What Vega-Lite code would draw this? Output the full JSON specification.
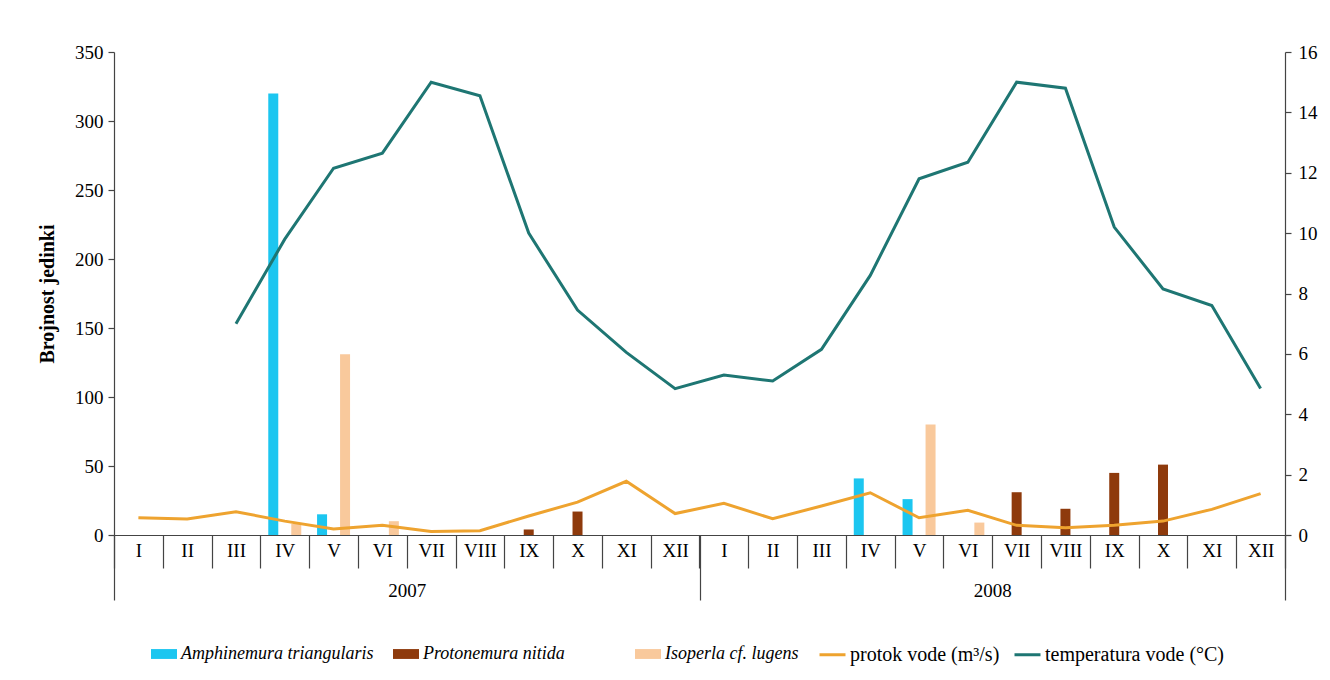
{
  "$schema": "https://vega.github.io/schema/vega-lite/v6.json",
  "width": 1171,
  "height": 483,
  "autosize": "none",
  "padding": {"left": 114, "top": 52, "right": 45, "bottom": 145},
  "background": "white",
  "config": {
    "font": "Liberation Serif",
    "view": {"stroke": null},
    "axis": {"grid": false, "labelFont": "Liberation Serif", "labelFontSize": 19, "labelColor": "#000", "domainColor": "#444", "tickColor": "#444", "domainWidth": 1.2, "tickWidth": 1.2, "titleFont": "Liberation Serif", "titleColor": "#000"},
    "legend": {"labelFont": "Liberation Serif", "labelColor": "#000", "labelLimit": 400}
  },
  "datasets": {
    "bars": [
      {"period": "2007-IV", "species": "Amphinemura triangularis", "count": 320},
      {"period": "2007-IV", "species": "Isoperla cf. lugens", "count": 8},
      {"period": "2007-V", "species": "Amphinemura triangularis", "count": 15},
      {"period": "2007-V", "species": "Isoperla cf. lugens", "count": 131},
      {"period": "2007-VI", "species": "Isoperla cf. lugens", "count": 10},
      {"period": "2007-IX", "species": "Protonemura nitida", "count": 4},
      {"period": "2007-X", "species": "Protonemura nitida", "count": 17},
      {"period": "2008-IV", "species": "Amphinemura triangularis", "count": 41},
      {"period": "2008-V", "species": "Amphinemura triangularis", "count": 26},
      {"period": "2008-V", "species": "Isoperla cf. lugens", "count": 80},
      {"period": "2008-VI", "species": "Isoperla cf. lugens", "count": 9},
      {"period": "2008-VII", "species": "Protonemura nitida", "count": 31},
      {"period": "2008-VIII", "species": "Protonemura nitida", "count": 19},
      {"period": "2008-IX", "species": "Protonemura nitida", "count": 45},
      {"period": "2008-X", "species": "Protonemura nitida", "count": 51}
    ],
    "lines": [
      {"period": "2007-I", "year": "2007", "series": "protok vode (m³/s)", "value": 0.57},
      {"period": "2007-II", "year": "2007", "series": "protok vode (m³/s)", "value": 0.53},
      {"period": "2007-III", "year": "2007", "series": "protok vode (m³/s)", "value": 0.77},
      {"period": "2007-IV", "year": "2007", "series": "protok vode (m³/s)", "value": 0.46},
      {"period": "2007-V", "year": "2007", "series": "protok vode (m³/s)", "value": 0.2},
      {"period": "2007-VI", "year": "2007", "series": "protok vode (m³/s)", "value": 0.32},
      {"period": "2007-VII", "year": "2007", "series": "protok vode (m³/s)", "value": 0.12},
      {"period": "2007-VIII", "year": "2007", "series": "protok vode (m³/s)", "value": 0.14},
      {"period": "2007-IX", "year": "2007", "series": "protok vode (m³/s)", "value": 0.63},
      {"period": "2007-X", "year": "2007", "series": "protok vode (m³/s)", "value": 1.09},
      {"period": "2007-XI", "year": "2007", "series": "protok vode (m³/s)", "value": 1.78},
      {"period": "2007-XII", "year": "2007", "series": "protok vode (m³/s)", "value": 0.71},
      {"period": "2008-I", "year": "2008", "series": "protok vode (m³/s)", "value": 1.05},
      {"period": "2008-II", "year": "2008", "series": "protok vode (m³/s)", "value": 0.54},
      {"period": "2008-III", "year": "2008", "series": "protok vode (m³/s)", "value": 0.96},
      {"period": "2008-IV", "year": "2008", "series": "protok vode (m³/s)", "value": 1.4},
      {"period": "2008-V", "year": "2008", "series": "protok vode (m³/s)", "value": 0.57},
      {"period": "2008-VI", "year": "2008", "series": "protok vode (m³/s)", "value": 0.82},
      {"period": "2008-VII", "year": "2008", "series": "protok vode (m³/s)", "value": 0.32},
      {"period": "2008-VIII", "year": "2008", "series": "protok vode (m³/s)", "value": 0.24},
      {"period": "2008-IX", "year": "2008", "series": "protok vode (m³/s)", "value": 0.32},
      {"period": "2008-X", "year": "2008", "series": "protok vode (m³/s)", "value": 0.46},
      {"period": "2008-XI", "year": "2008", "series": "protok vode (m³/s)", "value": 0.85},
      {"period": "2008-XII", "year": "2008", "series": "protok vode (m³/s)", "value": 1.37},
      {"period": "2007-III", "year": "2007", "series": "temperatura vode (°C)", "value": 7.0},
      {"period": "2007-IV", "year": "2007", "series": "temperatura vode (°C)", "value": 9.8},
      {"period": "2007-V", "year": "2007", "series": "temperatura vode (°C)", "value": 12.15},
      {"period": "2007-VI", "year": "2007", "series": "temperatura vode (°C)", "value": 12.65},
      {"period": "2007-VII", "year": "2007", "series": "temperatura vode (°C)", "value": 15.0},
      {"period": "2007-VIII", "year": "2007", "series": "temperatura vode (°C)", "value": 14.55},
      {"period": "2007-IX", "year": "2007", "series": "temperatura vode (°C)", "value": 10.0},
      {"period": "2007-X", "year": "2007", "series": "temperatura vode (°C)", "value": 7.45},
      {"period": "2007-XI", "year": "2007", "series": "temperatura vode (°C)", "value": 6.05},
      {"period": "2007-XII", "year": "2007", "series": "temperatura vode (°C)", "value": 4.85},
      {"period": "2008-I", "year": "2008", "series": "temperatura vode (°C)", "value": 5.3},
      {"period": "2008-II", "year": "2008", "series": "temperatura vode (°C)", "value": 5.1},
      {"period": "2008-III", "year": "2008", "series": "temperatura vode (°C)", "value": 6.15},
      {"period": "2008-IV", "year": "2008", "series": "temperatura vode (°C)", "value": 8.6},
      {"period": "2008-V", "year": "2008", "series": "temperatura vode (°C)", "value": 11.8},
      {"period": "2008-VI", "year": "2008", "series": "temperatura vode (°C)", "value": 12.35},
      {"period": "2008-VII", "year": "2008", "series": "temperatura vode (°C)", "value": 15.0},
      {"period": "2008-VIII", "year": "2008", "series": "temperatura vode (°C)", "value": 14.8},
      {"period": "2008-IX", "year": "2008", "series": "temperatura vode (°C)", "value": 10.2},
      {"period": "2008-X", "year": "2008", "series": "temperatura vode (°C)", "value": 8.15},
      {"period": "2008-XI", "year": "2008", "series": "temperatura vode (°C)", "value": 7.6},
      {"period": "2008-XII", "year": "2008", "series": "temperatura vode (°C)", "value": 4.85}
    ]
  },
  "layer": [
    {
      "layer": [
        {
          "data": {"name": "bars"},
          "encoding": {
            "x": {
              "field": "period", "type": "ordinal",
              "scale": {"type": "band", "domain": ["2007-I","2007-II","2007-III","2007-IV","2007-V","2007-VI","2007-VII","2007-VIII","2007-IX","2007-X","2007-XI","2007-XII","2008-I","2008-II","2008-III","2008-IV","2008-V","2008-VI","2008-VII","2008-VIII","2008-IX","2008-X","2008-XI","2008-XII"], "paddingInner": 0, "paddingOuter": 0},
              "axis": {"title": null, "orient": "bottom", "tickBand": "extent", "tickSize": 33, "labelPadding": -27, "labelAngle": 0, "labelFontSize": 19, "labelExpr": "split(datum.value, '-')[1]"}
            },
            "y": {
              "field": "count", "type": "quantitative",
              "scale": {"domain": [0, 350]},
              "axis": {"title": "Brojnost jedinki", "titleFontWeight": "bold", "titleFontSize": 20, "titlePadding": 17, "values": [0,50,100,150,200,250,300,350], "tickSize": 6, "labelPadding": 5, "labelFontSize": 19}
            },
            "color": {
              "field": "species", "type": "nominal",
              "scale": {"domain": ["Amphinemura triangularis", "Protonemura nitida", "Isoperla cf. lugens"], "range": ["#1CC6F0", "#8E3A0C", "#F9C99C"]},
              "legend": {
                "title": null, "orient": "none", "direction": "horizontal", "legendX": 36, "legendY": 588,
                "symbolType": "M-1,-0.38H1V0.38H-1Z", "symbolSize": 676, "columnPadding": 18, "labelOffset": 3, "gridAlign": "all",
                "labelFont": "Liberation Serif", "labelFontSize": 18, "labelFontStyle": "italic", "symbolOpacity": 1
              }
            }
          },
          "layer": [
            {"transform": [{"filter": "datum.species === 'Amphinemura triangularis'"}], "mark": {"type": "bar", "width": 10, "xOffset": -11.5}},
            {"transform": [{"filter": "datum.species === 'Protonemura nitida'"}], "mark": {"type": "bar", "width": 10, "xOffset": 0}},
            {"transform": [{"filter": "datum.species === 'Isoperla cf. lugens'"}], "mark": {"type": "bar", "width": 10, "xOffset": 11.5}}
          ]
        },
        {
          "data": {"name": "lines"},
          "mark": {"type": "line", "strokeWidth": 3},
          "encoding": {
            "x": {"field": "period", "type": "ordinal"},
            "y": {
              "field": "value", "type": "quantitative",
              "scale": {"domain": [0, 16]},
              "axis": {"orient": "right", "title": null, "values": [0,2,4,6,8,10,12,14,16], "tickSize": 6, "labelPadding": 7, "labelFontSize": 19}
            },
            "color": {
              "field": "series", "type": "nominal",
              "scale": {"domain": ["protok vode (m³/s)", "temperatura vode (°C)"], "range": ["#EEA32F", "#1E7673"]},
              "legend": {
                "title": null, "orient": "none", "direction": "horizontal", "legendX": 704, "legendY": 588,
                "symbolType": "stroke", "symbolSize": 676, "symbolStrokeWidth": 3, "columnPadding": 8, "labelOffset": 3,
                "labelFont": "Liberation Serif", "labelFontSize": 20
              }
            }
          }
        }
      ],
      "resolve": {"scale": {"y": "independent", "color": "independent"}}
    },
    {
      "data": {"name": "lines"},
      "mark": {"type": "point", "opacity": 0},
      "encoding": {
        "x": {
          "field": "year", "type": "ordinal",
          "scale": {"type": "band", "paddingInner": 0, "paddingOuter": 0},
          "axis": {"orient": "bottom", "title": null, "tickBand": "extent", "tickSize": 65, "labelPadding": -19, "labelAngle": 0, "labelFontSize": 19, "domain": false}
        },
        "y": {"field": "value", "type": "quantitative", "axis": null}
      }
    }
  ],
  "resolve": {"scale": {"x": "independent", "y": "independent"}}
}
